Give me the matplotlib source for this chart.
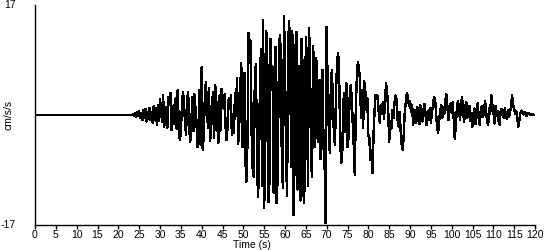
import numpy as np
import matplotlib
matplotlib.use('Agg')
import matplotlib.pyplot as plt

# acceleration trace (cm/s/s), sampled every 0.25 s, read off the picture
# quiet part before the first arrival
t_quiet = [0.0, 23.5]
a_quiet = [0.0, 0.0]

# from 23.5 s onwards
a_235_25 = [0.1, -0.2, 0.3, -0.3, 0.4, -0.2]
a_25_30 = [0.6, -0.5, 0.3, -0.8, 0.7, -0.4, 0.9, -1.0, 0.5, -0.6,
           1.1, -0.8, 0.4, -1.2, 1.4, -0.7, 1.0, -1.5, 1.6, -0.9]
a_30_35 = [2.4, 1.0, -1.1, 3.0, -1.8, -0.5, 1.2, -2.0, 2.8, 1.5,
           3.4, -2.3, -1.0, 1.5, -1.4, 2.6, -2.1, 3.8, -1.6, -3.9]
a_35_40 = [-2.6, 1.1, 3.5, 2.0, -1.2, -3.0, 2.2, 3.6, -1.8, -4.2,
           -1.5, 2.7, -2.5, 3.2, 1.0, -1.0, -5.0, -2.0, 3.9, -4.6]
a_40_45 = [7.4, -5.4, -3.2, 2.5, 5.1, 2.0, -2.0, 4.2, -4.0, -2.7,
           1.8, 3.6, -3.5, 4.6, 2.3, -1.5, -4.3, 3.0, -2.4, 4.0]
a_45_50 = [2.8, 1.0, 3.2, -2.0, -3.9, -1.5, 2.6, 1.2, 3.0, -3.1,
           -1.0, -2.8, 3.4, 1.4, 5.7, -4.5, -2.0, 3.9, 8.0, -5.0]
a_50_55 = [-2.0, 6.5, -7.2, -10.3, -4.0, 12.7, 8.0, 11.5, -3.0, -8.4,
           -9.6, 5.2, 7.8, -4.0, -12.7, -9.0, 6.3, 10.2, -11.0, 14.7]
a_55_60 = [-14.4, -6.0, 13.0, 8.2, -13.5, -10.6, 11.8, 6.4, 7.5, -12.0,
           -6.0, 10.5, -13.6, -9.2, 6.0, 12.4, 9.6, -7.8, -11.2, 15.3]
a_60_65 = [8.0, -6.5, -12.5, 11.0, 14.5, 7.0, -8.0, 13.0, -15.5, -9.0,
           10.2, 12.8, -11.5, -7.6, 7.6, -13.2, 11.8, 6.5, -13.6, -10.4]
a_65_70 = [12.0, 8.5, -11.0, 13.4, 9.0, -7.5, -9.5, 10.6, 6.0, -5.0,
           8.8, 3.0, -4.2, 5.4, -6.8, -3.0, 7.0, -4.9, -7.4, -16.7]
a_70_75 = [13.6, 4.0, -2.0, -5.9, 4.5, 7.0, 2.0, -3.2, -4.6, 3.7,
           8.1, 9.6, 6.0, -4.0, -7.4, -5.7, 2.2, 3.4, -2.6, 4.9]
a_75_80 = [-4.9, -3.5, 2.5, 4.6, 3.0, -1.2, -4.8, -9.3, 1.5, 6.0,
           8.2, 7.0, 5.5, -0.5, 3.8, -2.0, 5.2, 3.9, 0.8, 2.6]
a_80_85 = [-3.1, -3.6, -7.0, -5.4, -9.0, -3.0, 0.8, 3.1, 2.6, 3.0,
           0.4, -1.2, 1.5, 0.8, 2.0, -0.6, 1.8, 4.9, 3.5, 1.2]
a_85_90 = [-4.2, -1.0, -2.2, 0.8, -0.5, 1.6, 3.0, 2.4, -0.6, -1.8,
           0.5, -2.4, -4.6, -5.4, -3.0, 0.6, 2.0, 3.4, 2.8, 1.4]
a_90_95 = [2.2, 0.5, 1.6, -1.5, -0.6, 0.8, -1.2, 1.2, -0.4, -1.4,
           1.5, 0.3, -1.0, 0.9, 1.7, -0.2, -1.6, 0.6, -0.8, 1.0]
a_95_100 = [-1.2, 0.4, 1.4, 2.8, 2.6, 0.5, -1.8, -2.8, -0.9, 0.6,
            1.6, -0.4, 1.2, 0.2, 2.4, 3.2, 1.0, -0.8, 0.9, 1.8]
a_100_105 = [0.4, 2.0, -0.7, -3.7, -1.5, 0.9, 2.2, 1.0, -0.8, 1.5,
             2.8, 0.4, -1.0, 1.2, 2.0, -0.4, 0.6, 1.4, -0.9, 0.3]
a_105_110 = [-1.8, -0.6, 1.0, -1.4, 0.5, 1.8, -0.6, -1.5, 0.8, 1.4,
             -0.3, 0.4, 2.2, 0.6, -0.9, -1.6, 1.0, 0.2, 3.1, 1.6]
a_110_115 = [0.8, -1.3, 1.4, -0.2, 0.6, -0.9, -1.5, 0.5, 0.9, 0.3,
             -0.4, 1.0, 0.2, -0.6, 0.7, -0.3, 0.4, 1.2, 3.1, 1.5]
a_115_120 = [0.9, 0.2, 0.6, -0.4, -1.8, -0.8, 0.3, 0.7, 0.5, 0.1,
             0.4, 0.3, -0.2, 0.2, 0.3, 0.1, 0.2, 0.0, 0.1, 0.0, 0.0]

x_ticks = list(range(0, 121, 5))
y_lim = 17

accel = np.concatenate([a_235_25, a_25_30, a_30_35, a_35_40, a_40_45, a_45_50,
                        a_50_55, a_55_60, a_60_65, a_65_70, a_70_75, a_75_80,
                        a_80_85, a_85_90, a_90_95, a_95_100, a_100_105,
                        a_105_110, a_110_115, a_115_120])
time = 23.5 + 0.25 * np.arange(len(accel))

time = np.concatenate([t_quiet, time])
accel = np.concatenate([a_quiet, accel])

plt.rcParams['font.family'] = ['Liberation Sans', 'DejaVu Sans']

fig = plt.figure(figsize=(5.5, 2.5), dpi=100)
ax = fig.add_axes([35 / 550, 25 / 250, 500 / 550, 220 / 250])

ax.plot(time, accel, color='black', lw=1.0, antialiased=False)

ax.set_xlim(0, 120)
ax.set_ylim(-y_lim, y_lim)
ax.set_xticks(x_ticks)
ax.set_xticklabels([str(x) for x in x_ticks], fontsize=7.5)
ax.set_yticks([-y_lim, y_lim])
ax.set_yticklabels([str(-y_lim), str(y_lim)], fontsize=7.5)
ax.tick_params(axis='x', direction='out', length=3, width=1, pad=0.5)
ax.tick_params(axis='y', length=0, pad=14)
for lbl in ax.get_yticklabels():
    lbl.set_verticalalignment('center')

for side in ['top', 'right']:
    ax.spines[side].set_visible(False)
for side in ['left', 'bottom']:
    ax.spines[side].set_linewidth(1.0)

ax.set_ylabel('cm/s/s', fontsize=7.5)
ax.yaxis.set_label_coords(-0.042, 0.5)
fig.text(252 / 550, 10 / 250, 'Time (s)', fontsize=7.5, ha='center', va='top')

fig.savefig('out.png', dpi=100)
